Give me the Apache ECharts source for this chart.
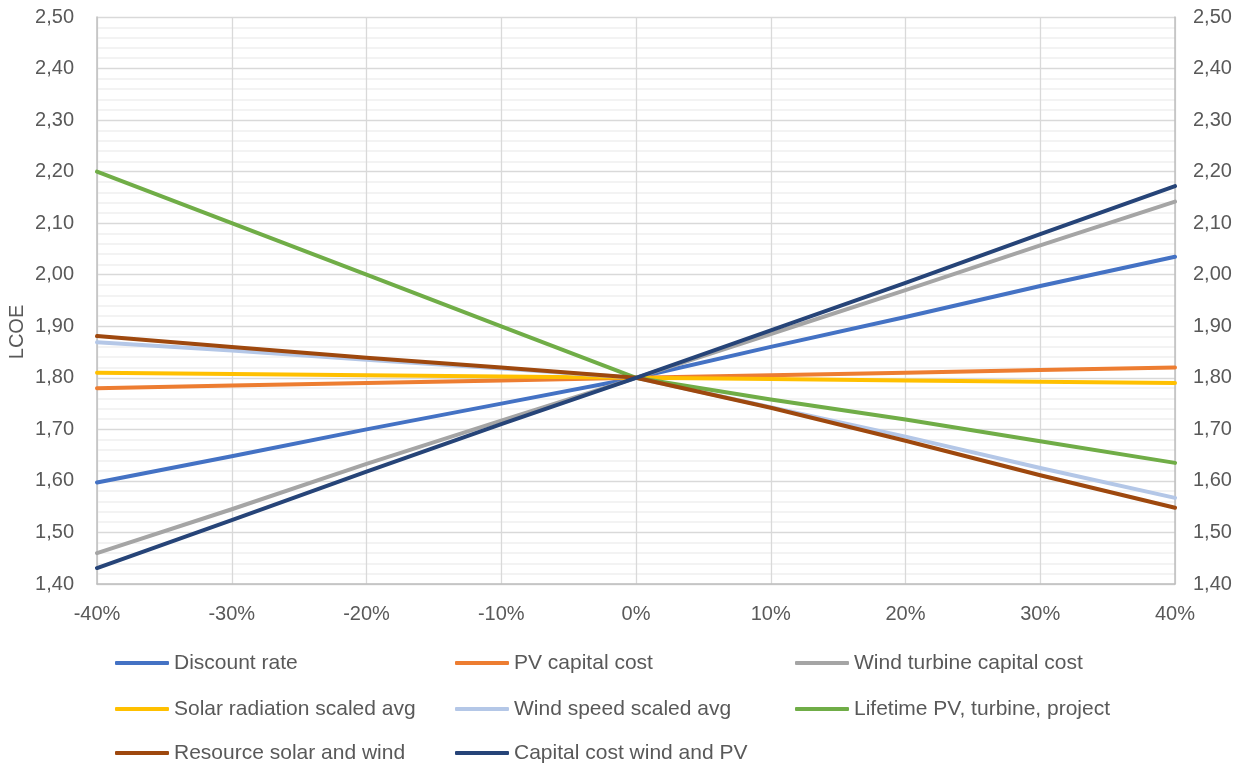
<!DOCTYPE html>
<html>
<head>
<meta charset="utf-8">
<script src="https://cdn.jsdelivr.net/npm/echarts@6/dist/echarts.min.js"></script>
<style>
html,body{margin:0;padding:0;background:#fff;}
#main{width:1255px;height:769px;}
</style>
</head>
<body>
<div id="main"></div>
<script>
const categories = ['-40%','-30%','-20%','-10%','0%','10%','20%','30%','40%'];
const seriesNames = ['Discount rate','PV capital cost','Wind turbine capital cost','Solar radiation scaled avg','Wind speed scaled avg','Lifetime PV, turbine, project','Resource solar and wind','Capital cost wind and PV'];
const discountRate = [1.597,1.648,1.700,1.750,1.800,1.860,1.918,1.978,2.035];
const pvCapital = [1.780,1.785,1.790,1.795,1.800,1.805,1.810,1.815,1.820];
const windCapital = [1.460,1.545,1.633,1.717,1.800,1.885,1.970,2.057,2.142];
const solarRadiation = [1.810,1.8075,1.805,1.8025,1.800,1.7975,1.795,1.7925,1.790];
const windSpeed = [1.869,1.853,1.835,1.818,1.800,1.743,1.686,1.625,1.567];
const lifetime = [2.200,2.100,2.000,1.900,1.800,1.758,1.719,1.677,1.635];
const resource = [1.881,1.860,1.839,1.820,1.800,1.742,1.678,1.611,1.548];
const capitalWindPV = [1.431,1.524,1.618,1.710,1.800,1.892,1.984,2.079,2.172];
const colors = ['#4472C4','#ED7D31','#A5A5A5','#FFC000','#B4C7E7','#70AD47','#9E480E','#264478'];
const allData = [discountRate,pvCapital,windCapital,solarRadiation,windSpeed,lifetime,resource,capitalWindPV];

const chart = echarts.init(document.getElementById('main'));
const fontFam = 'Liberation Sans, Arial, sans-serif';
const labelFmt = v => v.toFixed(2).replace('.', ',');

const legendPos = [[115,651],[455,651],[795,651],[115,697],[455,697],[795,697],[115,741],[455,741]];
const legends = seriesNames.map((n,i)=>({
  data:[n], left:legendPos[i][0], top:legendPos[i][1], orient:'horizontal', padding:0,
  icon:'roundRect', itemWidth:54, itemHeight:4, itemGap:5,
  textStyle:{color:'#595959', fontSize:21, fontFamily:fontFam, lineHeight:24},
  selectedMode:false
}));

const yCommon = {
  type:'value', min:1.4, max:2.5, interval:0.1,
  axisLine:{show:true, lineStyle:{color:'#BFBFBF', width:1.5}},
  axisTick:{show:false},
  axisLabel:{formatter:labelFmt, color:'#595959', fontSize:20, fontFamily:fontFam}
};

chart.setOption({
  animation:false,
  color:colors,
  grid:{left:97, right:80, top:17, bottom:185, containLabel:false},
  legend:legends,
  graphic:[{type:'text', x:17, y:332, rotation:Math.PI/2,
    style:{text:'LCOE', fill:'#595959', font:'20px '+fontFam, textAlign:'center', textVerticalAlign:'middle'}}],
  xAxis:{
    type:'category', data:categories, boundaryGap:false,
    axisLine:{show:true, lineStyle:{color:'#BFBFBF', width:1.5}},
    axisTick:{show:false},
    axisLabel:{color:'#595959', fontSize:20, fontFamily:fontFam, margin:20},
    splitLine:{show:true, lineStyle:{color:'#D9D9D9', width:1.3}}
  },
  yAxis:[
    Object.assign({}, yCommon, {position:'left',
      axisLabel:Object.assign({}, yCommon.axisLabel, {margin:23}),
      splitLine:{show:true, lineStyle:{color:'#D9D9D9', width:1.3}},
      minorTick:{show:false, splitNumber:5},
      minorSplitLine:{show:true, lineStyle:{color:'#F0F0F0', width:1.5}}
    }),
    Object.assign({}, yCommon, {position:'right',
      axisLabel:Object.assign({}, yCommon.axisLabel, {margin:18}),
      splitLine:{show:false}
    })
  ],
  series:seriesNames.map((n,i)=>({
    name:n, type:'line', data:allData[i], yAxisIndex:0,
    symbol:'none', smooth:false,
    lineStyle:{width:4, color:colors[i], cap:'round', join:'round'},
    itemStyle:{color:colors[i]}
  }))
});
</script>
</body>
</html>
